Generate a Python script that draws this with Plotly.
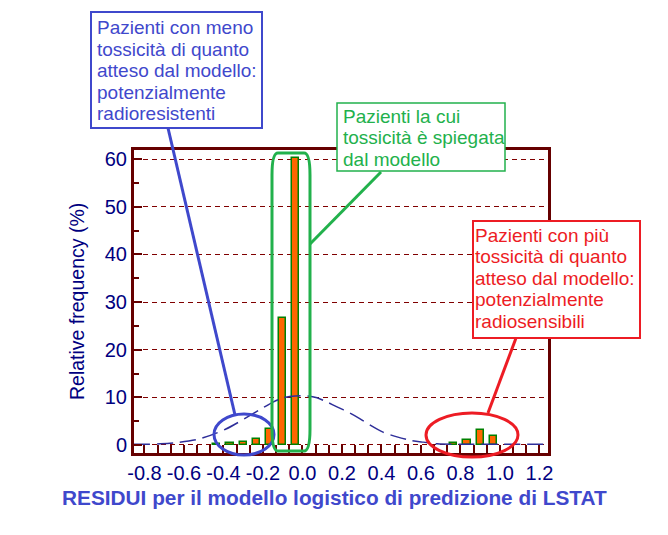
import plotly.graph_objects as go

# ---------------- data ----------------
bar_centers = [-0.4333, -0.3667, -0.3, -0.2333, -0.1667, -0.1, -0.0333,
               0.7667, 0.8333, 0.9, 0.9667]
bar_freq = [0.2, 0.4, 0.6, 1.2, 3.3, 26.6, 60.3,
            0.5, 1.1, 3.2, 1.8]

curve_x = [-0.853, -0.807, -0.72, -0.64, -0.52, -0.39, -0.2, -0.149, -0.098,
           -0.037, 0.023, 0.074, 0.125, 0.175, 0.241, 0.292, 0.342, 0.408,
           0.479, 0.545, 0.611, 0.682, 0.8, 1.0, 1.2435]
curve_y = [0.15, 0.15, 0.25, 0.5, 1.3, 3.3, 7.8, 9.0, 9.9,
           10.3, 10.3, 9.9, 9.0, 8.0, 6.7, 5.5, 4.2, 2.7,
           1.7, 1.0, 0.6, 0.25, 0.15, 0.15, 0.15]

x_major_vals = [-0.8, -0.6, -0.4, -0.2, 0.0, 0.2, 0.4, 0.6, 0.8, 1.0, 1.2]
x_major_labels = ["-0.8", "-0.6", "-0.4", "-0.2", "0.0", "0.2", "0.4",
                  "0.6", "0.8", "1.0", "1.2"]
y_tick_vals = [0, 10, 20, 30, 40, 50, 60]

x_title = "RESIDUI per il modello logistico di predizione di LSTAT"
y_title = "Relative frequency (%)"
blue_lines = ["Pazienti con meno", "tossicità di quanto", "atteso dal modello:",
              "potenzialmente", "radioresistenti"]
green_lines = ["Pazienti la cui", "tossicità è spiegata", "dal modello"]
red_lines = ["Pazienti con più", "tossicità di quanto", "atteso dal modello:",
             "potenzialmente", "radiosensibili"]

# ---------------- layout geometry ----------------
W, H = 668, 535
L, R, T, B = 134, 548, 150, 453


def px(x):
    return (x - L) / (R - L)


def py(y):
    return (B - y) / (B - T)


BLUE = "#3f48cc"
GREEN = "#22b14c"
RED = "#ed1c24"
AXIS = "#660000"
NAVY = "#000080"
FONT = "Arial, Liberation Sans, sans-serif"

# x ticks every 1/15, labels every 0.2
x_tick_vals = [k / 15 for k in range(-12, 19)]
x_tick_text = []
for v in x_tick_vals:
    lab = ""
    for mv, ml in zip(x_major_vals, x_major_labels):
        if abs(mv - v) < 1e-6:
            lab = ml
    x_tick_text.append(lab)

fig = go.Figure()
fig.add_trace(go.Scatter(
    x=curve_x, y=curve_y, mode="lines",
    line=dict(color="#2e2e99", width=1.5, dash="16px,7px", shape="spline", smoothing=0.8),
    hoverinfo="skip"))
fig.add_trace(go.Bar(
    x=bar_centers, y=bar_freq, width=0.036,
    marker=dict(color="#ff6600", line=dict(color="#008000", width=1.5))))

fig.update_layout(
    template="none",
    width=W, height=H,
    margin=dict(l=L, r=W - R, t=T, b=H - B, pad=0),
    paper_bgcolor="white", plot_bgcolor="white",
    showlegend=False,
    font=dict(family=FONT, color=NAVY),
    bargap=0,
)
fig.update_xaxes(
    range=[-0.853, 1.2435], automargin=False,
    showline=True, linecolor=AXIS, linewidth=3, mirror=True,
    tickmode="array", tickvals=x_tick_vals, ticktext=x_tick_text,
    ticks="inside", ticklen=8, tickwidth=2, tickcolor=AXIS,
    tickfont=dict(size=20, color=NAVY, family=FONT),
    showgrid=False, zeroline=False,
)
fig.update_yaxes(
    range=[-1.68, 61.9], automargin=False,
    showline=True, linecolor=AXIS, linewidth=3, mirror=True,
    tickmode="array", tickvals=y_tick_vals,
    ticks="inside", ticklen=8, tickwidth=2, tickcolor=AXIS,
    tickfont=dict(size=20, color=NAVY, family=FONT),
    showgrid=True, gridcolor="#800000", gridwidth=1, griddash="5px,4px",
    zeroline=False,
    minor=dict(tickmode="linear", tick0=0, dtick=5, ticks="inside", ticklen=5,
               tickwidth=2, tickcolor=AXIS, showgrid=False),
)

shapes = []


def rect(x0, y0, x1, y1, color, w):
    shapes.append(dict(type="rect", xref="paper", yref="paper",
                       x0=px(x0), x1=px(x1), y0=py(y0), y1=py(y1),
                       line=dict(color=color, width=w), fillcolor="white",
                       layer="above"))


def seg(x0, y0, x1, y1, color, w=3):
    shapes.append(dict(type="line", xref="paper", yref="paper",
                       x0=px(x0), x1=px(x1), y0=py(y0), y1=py(y1),
                       line=dict(color=color, width=w), layer="above"))


def ell(x0, y0, x1, y1, color, w=3):
    shapes.append(dict(type="circle", xref="paper", yref="paper",
                       x0=px(x0), x1=px(x1), y0=py(y0), y1=py(y1),
                       line=dict(color=color, width=w), layer="above"))


rect(91, 12, 262, 128, BLUE, 2)
rect(337, 103, 505, 171, GREEN, 1.5)
rect(473, 221, 640, 338, RED, 2)
seg(168, 128, 235, 415, BLUE)
seg(381, 172, 310, 244, GREEN)
seg(516, 338, 488, 413, RED)
ell(214, 414, 274, 455, BLUE)
ell(426, 413, 518, 457, RED)

# green rounded rectangle
gx0, gx1, gy0, gy1, rx, ry = 272, 310, 153, 451, 6, 22
pts = [
    ("M", [(gx0, gy0 + ry)]),
    ("Q", [(gx0, gy0), (gx0 + rx, gy0)]),
    ("L", [(gx1 - rx, gy0)]),
    ("Q", [(gx1, gy0), (gx1, gy0 + ry)]),
    ("L", [(gx1, gy1 - ry)]),
    ("Q", [(gx1, gy1), (gx1 - rx, gy1)]),
    ("L", [(gx0 + rx, gy1)]),
    ("Q", [(gx0, gy1), (gx0, gy1 - ry)]),
]
path = ""
for cmd, cs in pts:
    path += cmd + " " + " ".join(f"{px(a):.5f},{py(b):.5f}" for a, b in cs) + " "
path += "Z"
shapes.append(dict(type="path", xref="paper", yref="paper", path=path,
                   line=dict(color=GREEN, width=3), layer="above"))

fig.update_layout(shapes=shapes)

annotations = []
FS = 19
LS = 21.5


def text_block(lines, x, base0, color):
    for i, t in enumerate(lines):
        baseline = base0 + i * LS
        annotations.append(dict(
            xref="paper", yref="paper", x=px(x), y=py(baseline - 0.3465 * FS),
            xanchor="left", yanchor="middle", showarrow=False,
            text=t, borderpad=0, borderwidth=0,
            font=dict(size=FS, color=color, family=FONT)))


text_block(blue_lines, 97, 34.5, BLUE)
text_block(green_lines, 343, 123, GREEN)
text_block(red_lines, 475, 242, RED)

annotations.append(dict(
    xref="paper", yref="paper", x=px(334), y=py(497),
    xanchor="center", yanchor="middle", showarrow=False,
    text="<b>" + x_title + "</b>",
    font=dict(size=20.8, color=BLUE, family=FONT)))
annotations.append(dict(
    xref="paper", yref="paper", x=px(77), y=py(302),
    xanchor="center", yanchor="middle", showarrow=False, textangle=-90,
    text=y_title, font=dict(size=19.5, color=NAVY, family=FONT)))

fig.update_layout(annotations=annotations)

fig.write_html("out.html")
